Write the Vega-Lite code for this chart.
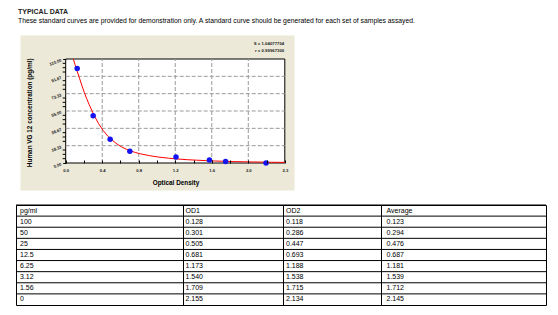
{
  "$schema": "https://vega.github.io/schema/vega-lite/v6.json",
  "background": "white",
  "padding": {"left": 15, "top": 7, "right": 10, "bottom": 8},
  "config": {"font": "Liberation Sans", "view": {"stroke": null}},
  "title": {
    "text": "TYPICAL DATA",
    "subtitle": "These standard curves are provided for demonstration only. A standard curve should be generated for each set of samples assayed.",
    "anchor": "start",
    "frame": "bounds",
    "dx": 3,
    "font": "Liberation Sans",
    "fontSize": 7,
    "fontWeight": "bold",
    "color": "#222222",
    "subtitleFont": "Liberation Sans",
    "subtitleFontSize": 6.8,
    "subtitleColor": "#000000",
    "subtitlePadding": 3,
    "offset": 11
  },
  "datasets": {
    "std": [
      {"od": 0.123, "conc": 100},
      {"od": 0.294, "conc": 50},
      {"od": 0.476, "conc": 25},
      {"od": 0.687, "conc": 12.5},
      {"od": 1.181, "conc": 6.25},
      {"od": 1.539, "conc": 3.12},
      {"od": 1.712, "conc": 1.56},
      {"od": 2.145, "conc": 0}
    ],
    "fit": [
      {"od": 0.082, "conc": 110},
      {"od": 0.1, "conc": 104},
      {"od": 0.123, "conc": 97},
      {"od": 0.15, "conc": 89},
      {"od": 0.175, "conc": 81.5},
      {"od": 0.2, "conc": 74.5},
      {"od": 0.225, "conc": 68},
      {"od": 0.25, "conc": 62},
      {"od": 0.294, "conc": 52.5},
      {"od": 0.325, "conc": 46.5},
      {"od": 0.35, "conc": 42},
      {"od": 0.4, "conc": 34.5},
      {"od": 0.45, "conc": 28.5},
      {"od": 0.476, "conc": 26},
      {"od": 0.5, "conc": 24},
      {"od": 0.55, "conc": 20},
      {"od": 0.6, "conc": 17},
      {"od": 0.65, "conc": 14.5},
      {"od": 0.687, "conc": 13},
      {"od": 0.75, "conc": 11},
      {"od": 0.8, "conc": 9.7},
      {"od": 0.9, "conc": 7.7},
      {"od": 1.0, "conc": 6.2},
      {"od": 1.1, "conc": 5.1},
      {"od": 1.2, "conc": 4.2},
      {"od": 1.3, "conc": 3.5},
      {"od": 1.4, "conc": 3.0},
      {"od": 1.5, "conc": 2.5},
      {"od": 1.6, "conc": 2.1},
      {"od": 1.7, "conc": 1.8},
      {"od": 1.8, "conc": 1.5},
      {"od": 1.9, "conc": 1.3},
      {"od": 2.0, "conc": 1.1},
      {"od": 2.1, "conc": 0.95},
      {"od": 2.2, "conc": 0.8},
      {"od": 2.346, "conc": 0.65}
    ],
    "ylab": [{"v": 0}, {"v": 18.333333}, {"v": 36.666667}, {"v": 55}, {"v": 73.333333}, {"v": 91.666667}, {"v": 110}],
    "ygrid": [{"v": 18.333333}, {"v": 36.666667}, {"v": 55}, {"v": 73.333333}, {"v": 91.666667}],
    "yminor": [{"v": 4.583333}, {"v": 9.166667}, {"v": 13.75}, {"v": 22.916667}, {"v": 27.5}, {"v": 32.083333}, {"v": 41.25}, {"v": 45.833333}, {"v": 50.416667}, {"v": 59.583333}, {"v": 64.166667}, {"v": 68.75}, {"v": 77.916667}, {"v": 82.5}, {"v": 87.083333}, {"v": 96.25}, {"v": 100.833333}, {"v": 105.416667}],
    "xgrid": [{"v": 0.391}, {"v": 0.782}, {"v": 1.173}, {"v": 1.564}, {"v": 1.955}],
    "tbl": [
      {"i": 0, "pg": "pg/ml", "od1": "OD1", "od2": "OD2", "avg": "Average"},
      {"i": 1, "pg": "100", "od1": "0.128", "od2": "0.118", "avg": "0.123"},
      {"i": 2, "pg": "50", "od1": "0.301", "od2": "0.286", "avg": "0.294"},
      {"i": 3, "pg": "25", "od1": "0.505", "od2": "0.447", "avg": "0.476"},
      {"i": 4, "pg": "12.5", "od1": "0.681", "od2": "0.693", "avg": "0.687"},
      {"i": 5, "pg": "6.25", "od1": "1.173", "od2": "1.188", "avg": "1.181"},
      {"i": 6, "pg": "3.12", "od1": "1.540", "od2": "1.538", "avg": "1.539"},
      {"i": 7, "pg": "1.56", "od1": "1.709", "od2": "1.715", "avg": "1.712"},
      {"i": 8, "pg": "0", "od1": "2.155", "od2": "2.134", "avg": "2.145"}
    ]
  },
  "spacing": 13,
  "vconcat": [
    {
      "width": 530,
      "height": 104,
      "view": {"stroke": null},
      "layer": [
        {
          "data": {"values": [{}]},
          "mark": {"type": "rect", "fill": "#ECE9D8"},
          "encoding": {
            "x": {
              "datum": -0.484, "type": "quantitative",
              "scale": {"domain": [-0.53216, 5.14278], "nice": false, "zero": false},
              "axis": {
                "values": [0, 0.09775, 0.1955, 0.29325, 0.391, 0.48875, 0.5865, 0.68425, 0.782, 0.87975, 0.9775, 1.07525, 1.173, 1.27075, 1.3685, 1.46625, 1.564, 1.66175, 1.7595, 1.85725, 1.955, 2.05275, 2.1505, 2.24825, 2.346],
                "labelExpr": "abs(datum.value/0.391 - round(datum.value/0.391)) < 0.01 ? format(datum.value, '.1f') : ''",
                "title": "Optical Density",
                "titleFont": "Liberation Sans",
                "titleFontSize": 6.4,
                "titleFontWeight": "bold",
                "titleColor": "#000000",
                "titleX": 159.5,
                "titleY": 21.5,
                "titleBaseline": "alphabetic",
                "titleAlign": "center",
                "labelFontSize": 4.2,
                "labelFontWeight": "bold",
                "labelColor": "#222222",
                "labelPadding": 8,
                "labelOverlap": false,
                "labelFlush": false,
                "tickSize": -3,
                "tickColor": "#000000",
                "domain": false,
                "grid": false,
                "zindex": 1
              }
            },
            "x2": {"datum": 2.45},
            "y": {
              "datum": 134.86, "type": "quantitative",
              "scale": {"domain": [0, 110], "nice": false, "zero": false},
              "axis": {
                "values": [0, 18.333333, 36.666667, 55, 73.333333, 91.666667, 110],
                "labels": false,
                "offset": -49.7,
                "title": "Human VG 12 concentration (pg/ml)",
                "titleFont": "Liberation Sans",
                "titleFontSize": 6.4,
                "titleFontWeight": "bold",
                "titleColor": "#000000",
                "titleAngle": 270,
                "titleX": -33.7,
                "titleY": 53.3,
                "titleBaseline": "alphabetic",
                "titleAlign": "center",
                "tickSize": 3,
                "tickColor": "#000000",
                "domain": false,
                "grid": false,
                "minExtent": 0,
                "zindex": 1
              }
            },
            "y2": {"datum": -29.09}
          }
        },
        {
          "data": {"values": [{}]},
          "mark": {"type": "rect", "fill": "#ffffff", "stroke": "#000000", "strokeWidth": 1},
          "encoding": {
            "x": {"datum": 0, "type": "quantitative"},
            "x2": {"datum": 2.346},
            "y": {"datum": 110, "type": "quantitative"},
            "y2": {"datum": 0}
          }
        },
        {
          "data": {"name": "yminor"},
          "mark": {"type": "rule", "color": "#000000", "strokeWidth": 1},
          "encoding": {
            "y": {"field": "v", "type": "quantitative"},
            "x": {"datum": -0.0321, "type": "quantitative"},
            "x2": {"datum": 0}
          }
        },
        {
          "data": {"name": "ylab"},
          "mark": {"type": "text", "align": "right", "baseline": "middle", "angle": 340, "dx": -4.5, "fontSize": 4.2, "fontWeight": "bold", "color": "#222222"},
          "encoding": {
            "y": {"field": "v", "type": "quantitative"},
            "x": {"datum": 0, "type": "quantitative"},
            "text": {"field": "v", "type": "quantitative", "format": ".2f"}
          }
        },
        {
          "data": {"name": "ygrid"},
          "mark": {"type": "rule", "color": "#9a9a9a", "strokeDash": [4, 2], "strokeWidth": 1},
          "encoding": {
            "y": {"field": "v", "type": "quantitative"},
            "x": {"datum": 0, "type": "quantitative"},
            "x2": {"datum": 2.346}
          }
        },
        {
          "data": {"name": "xgrid"},
          "mark": {"type": "rule", "color": "#9a9a9a", "strokeDash": [4, 2], "strokeWidth": 1},
          "encoding": {
            "x": {"field": "v", "type": "quantitative"},
            "y": {"datum": 0, "type": "quantitative"},
            "y2": {"datum": 110}
          }
        },
        {
          "data": {"name": "fit"},
          "mark": {"type": "line", "color": "#ff0000", "strokeWidth": 1},
          "encoding": {
            "x": {"field": "od", "type": "quantitative"},
            "y": {"field": "conc", "type": "quantitative"}
          }
        },
        {
          "data": {"name": "std"},
          "mark": {"type": "circle", "color": "#1414f0", "size": 30, "opacity": 1},
          "encoding": {
            "x": {"field": "od", "type": "quantitative"},
            "y": {"field": "conc", "type": "quantitative"}
          }
        },
        {
          "data": {"values": [{}]},
          "mark": {"type": "text", "text": "S = 1.04077704", "align": "right", "baseline": "middle", "fontSize": 4.3, "fontWeight": "bold", "color": "#222222"},
          "encoding": {
            "x": {"datum": 2.34, "type": "quantitative"},
            "y": {"datum": 125.87, "type": "quantitative"}
          }
        },
        {
          "data": {"values": [{}]},
          "mark": {"type": "text", "text": "r = 0.99967300", "align": "right", "baseline": "middle", "fontSize": 4.3, "fontWeight": "bold", "color": "#222222"},
          "encoding": {
            "x": {"datum": 2.34, "type": "quantitative"},
            "y": {"datum": 118.46, "type": "quantitative"}
          }
        }
      ]
    },
    {
      "spacing": 0,
      "bounds": "flush",
      "hconcat": [
        {
          "width": 167, "height": 100, "view": {"stroke": "#000000"},
          "data": {"name": "tbl"},
          "layer": [
            {"mark": {"type": "rule", "color": "#000000", "strokeWidth": 1},
             "encoding": {"y": {"field": "i", "type": "ordinal", "bandPosition": 0, "scale": {"paddingInner": 0, "paddingOuter": 0}, "axis": null}}},
            {"mark": {"type": "text", "align": "left", "baseline": "middle", "dx": 4, "fontSize": 7, "color": "#000000"},
             "encoding": {"y": {"field": "i", "type": "ordinal"},
                          "x": {"datum": 0, "type": "quantitative", "scale": {"domain": [0, 1]}, "axis": null},
                          "text": {"field": "pg"}}}
          ]
        },
        {
          "width": 100, "height": 100, "view": {"stroke": "#000000"},
          "data": {"name": "tbl"},
          "layer": [
            {"mark": {"type": "rule", "color": "#000000", "strokeWidth": 1},
             "encoding": {"y": {"field": "i", "type": "ordinal", "bandPosition": 0, "scale": {"paddingInner": 0, "paddingOuter": 0}, "axis": null}}},
            {"mark": {"type": "text", "align": "left", "baseline": "middle", "dx": 2.5, "fontSize": 7, "color": "#000000"},
             "encoding": {"y": {"field": "i", "type": "ordinal"},
                          "x": {"datum": 0, "type": "quantitative", "scale": {"domain": [0, 1]}, "axis": null},
                          "text": {"field": "od1"}}}
          ]
        },
        {
          "width": 98, "height": 100, "view": {"stroke": "#000000"},
          "data": {"name": "tbl"},
          "layer": [
            {"mark": {"type": "rule", "color": "#000000", "strokeWidth": 1},
             "encoding": {"y": {"field": "i", "type": "ordinal", "bandPosition": 0, "scale": {"paddingInner": 0, "paddingOuter": 0}, "axis": null}}},
            {"mark": {"type": "text", "align": "left", "baseline": "middle", "dx": 3, "fontSize": 7, "color": "#000000"},
             "encoding": {"y": {"field": "i", "type": "ordinal"},
                          "x": {"datum": 0, "type": "quantitative", "scale": {"domain": [0, 1]}, "axis": null},
                          "text": {"field": "od2"}}}
          ]
        },
        {
          "width": 165, "height": 100, "view": {"stroke": "#000000"},
          "data": {"name": "tbl"},
          "layer": [
            {"mark": {"type": "rule", "color": "#000000", "strokeWidth": 1},
             "encoding": {"y": {"field": "i", "type": "ordinal", "bandPosition": 0, "scale": {"paddingInner": 0, "paddingOuter": 0}, "axis": null}}},
            {"mark": {"type": "text", "align": "left", "baseline": "middle", "dx": 5.5, "fontSize": 7, "color": "#000000"},
             "encoding": {"y": {"field": "i", "type": "ordinal"},
                          "x": {"datum": 0, "type": "quantitative", "scale": {"domain": [0, 1]}, "axis": null},
                          "text": {"field": "avg"}}}
          ]
        }
      ]
    }
  ]
}
